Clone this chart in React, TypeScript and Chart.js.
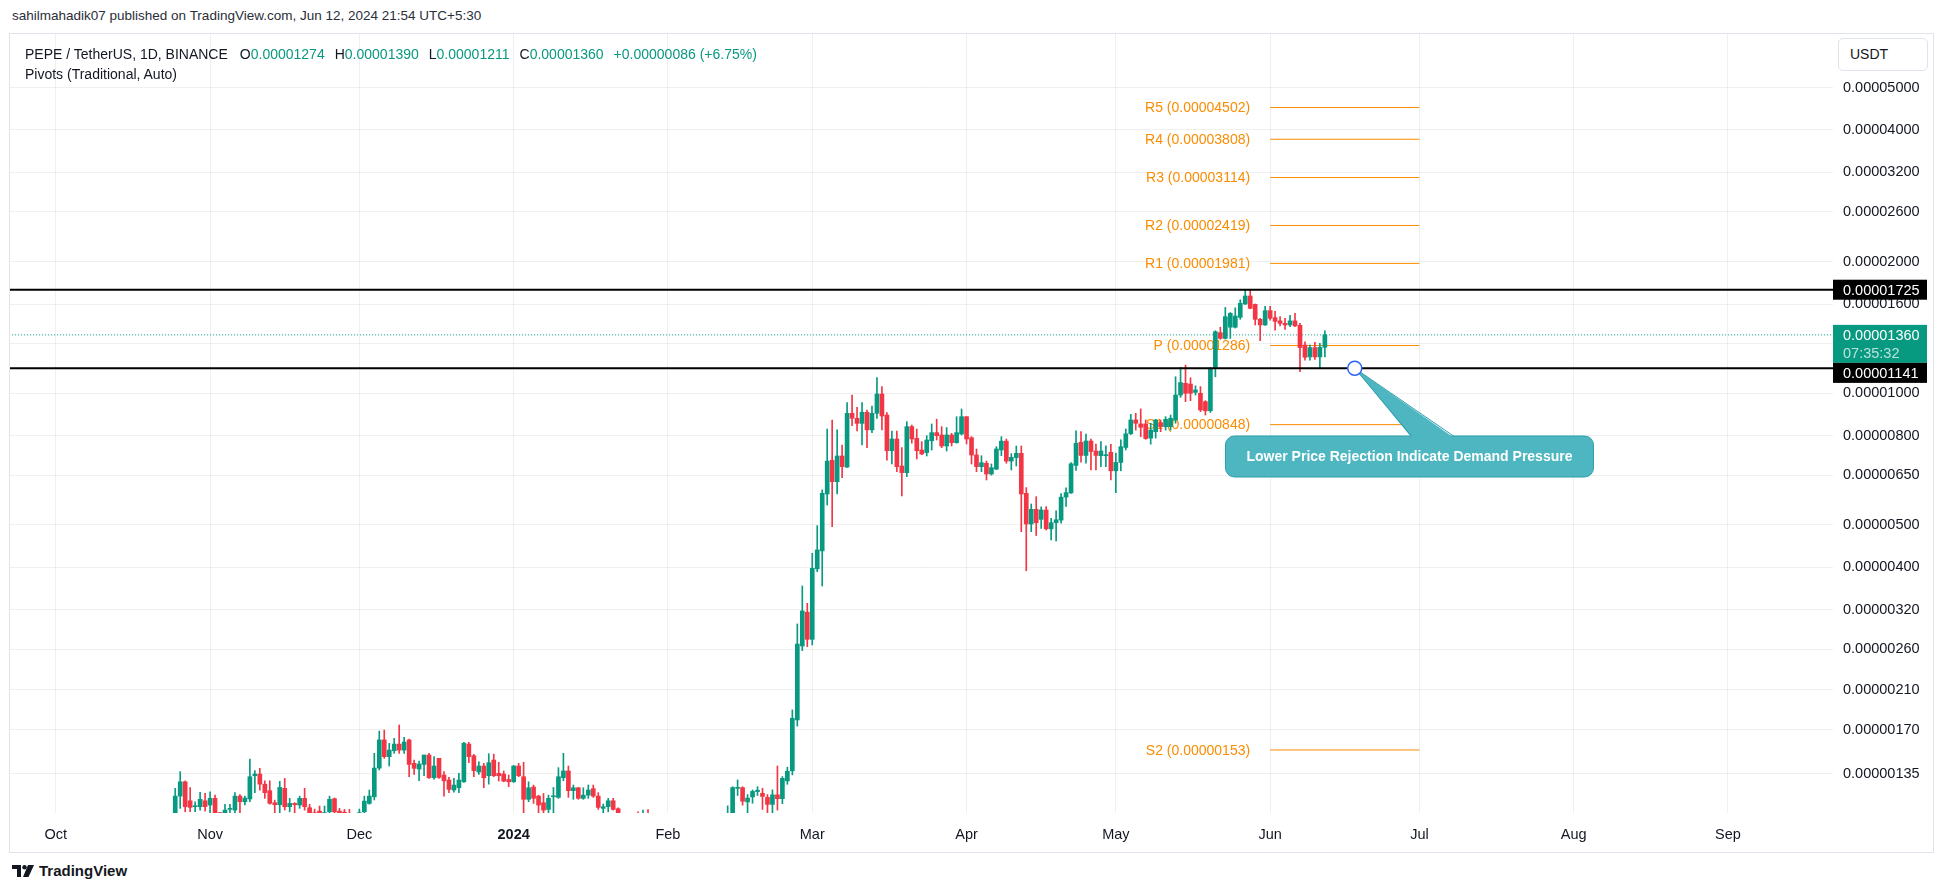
import React, { useEffect, useRef } from 'react';
import { Chart, registerables } from 'chart.js';

Chart.register(...registerables);

// ---------------- data (daily candles, PEPE / USDT) ----------------
const FIRST_CANDLE_DATE = '2023-10-25';

const OPEN = [
  1.04e-6, 1.20e-6, 1.294e-6, 1.171e-6, 1.135e-6, 1.135e-6, 1.171e-6, 1.145e-6, 1.186e-6, 1.10e-6,
  1.08e-6, 1.119e-6, 1.115e-6, 1.20e-6, 1.165e-6, 1.182e-6, 1.336e-6, 1.348e-6, 1.278e-6, 1.235e-6,
  1.159e-6, 1.147e-6, 1.25e-6, 1.135e-6, 1.155e-6, 1.145e-6, 1.186e-6, 1.129e-6, 1.10e-6, 1.109e-6,
  1.08e-6, 1.105e-6, 1.184e-6, 1.109e-6, 1.103e-6, 1.09e-6, 1.08e-6, 1.09e-6, 1.105e-6, 1.155e-6,
  1.196e-6, 1.391e-6, 1.613e-6, 1.477e-6, 1.524e-6, 1.578e-6, 1.529e-6, 1.613e-6, 1.426e-6, 1.384e-6,
  1.418e-6, 1.49e-6, 1.322e-6, 1.464e-6, 1.341e-6, 1.306e-6, 1.239e-6, 1.254e-6, 1.294e-6, 1.578e-6,
  1.484e-6, 1.362e-6, 1.406e-6, 1.336e-6, 1.451e-6, 1.353e-6, 1.348e-6, 1.31e-6, 1.294e-6, 1.406e-6,
  1.329e-6, 1.18e-6, 1.259e-6, 1.20e-6, 1.159e-6, 1.119e-6, 1.196e-6, 1.192e-6, 1.322e-6, 1.37e-6,
  1.235e-6, 1.254e-6, 1.186e-6, 1.206e-6, 1.248e-6, 1.20e-6, 1.125e-6, 1.135e-6, 1.171e-6, 1.123e-6,
  1.09e-6, 1.05e-6, 1.04e-6, 1.06e-6, 1.04e-6, 1.07e-6, 1.05e-6, 1.02e-6, 1.00e-6, 0.98e-6,
  0.99e-6, 0.97e-6, 0.96e-6, 0.98e-6, 0.96e-6, 0.97e-6, 0.99e-6, 0.98e-6, 1.00e-6, 1.02e-6,
  1.03e-6,
  1.04e-6, 1.07e-6, 1.25e-6, 1.255e-6, 1.164e-6, 1.195e-6, 1.229e-6, 1.218e-6, 1.192e-6, 1.149e-6,
  1.208e-6, 1.184e-6, 1.30e-6, 1.371e-6, 1.792e-6, 2.645e-6, 3.16e-6, 2.739e-6, 3.97e-6, 4.362e-6,
  5.886e-6, 7.03e-6, 6.28e-6, 7.19e-6, 6.78e-6, 9.0e-6, 8.767e-6, 8.537e-6, 9.05e-6, 8.25e-6,
  9.0e-6, 9.963e-6, 8.915e-6, 7.393e-6, 7.862e-6, 6.82e-6, 6.585e-6, 8.39e-6, 7.889e-6, 7.419e-6,
  7.32e-6, 7.79e-6, 8.13e-6, 8.03e-6, 7.578e-6, 8.03e-6, 7.711e-6, 8.07e-6, 8.842e-6, 7.915e-6,
  7.227e-6, 6.797e-6, 6.92e-6, 6.539e-6, 6.71e-6, 7.419e-6, 7.775e-6, 7.0e-6, 7.13e-6, 7.292e-6,
  5.907e-6, 5.026e-6, 5.43e-6,
  5.15e-6, 5.41e-6, 4.90e-6, 5.06e-6, 5.13e-6, 5.79e-6, 5.92e-6, 6.84e-6, 7.73e-6, 7.21e-6,
  7.78e-6, 7.38e-6, 7.20e-6, 7.20e-6, 7.33e-6, 6.65e-6, 6.95e-6, 7.52e-6, 8.08e-6, 8.69e-6,
  8.51e-6, 8.51e-6, 7.90e-6, 8.17e-6, 8.57e-6, 8.39e-6, 8.39e-6, 8.69e-6, 9.91e-6, 10.54e-6,
  10.50e-6, 10.05e-6, 10.00e-6, 9.57e-6, 9.12e-6,
  11.40e-6, 13.76e-6, 13.35e-6, 14.16e-6, 14.16e-6, 14.92e-6, 16.00e-6, 16.69e-6, 15.97e-6, 14.76e-6,
  14.33e-6, 15.45e-6, 14.89e-6, 14.64e-6, 14.45e-6, 14.33e-6, 14.64e-6, 14.30e-6, 12.89e-6, 12.11e-6,
  12.72e-6, 12.11e-6, 12.74e-6,
];

const HIGH = [
  1.25e-6, 1.365e-6, 1.30e-6, 1.256e-6, 1.165e-6, 1.224e-6, 1.217e-6, 1.228e-6, 1.206e-6, 1.10e-6,
  1.149e-6, 1.149e-6, 1.222e-6, 1.21e-6, 1.20e-6, 1.459e-6, 1.372e-6, 1.389e-6, 1.301e-6, 1.301e-6,
  1.175e-6, 1.297e-6, 1.317e-6, 1.186e-6, 1.159e-6, 1.20e-6, 1.25e-6, 1.149e-6, 1.121e-6, 1.139e-6,
  1.139e-6, 1.20e-6, 1.188e-6, 1.125e-6, 1.119e-6, 1.119e-6, 1.095e-6, 1.121e-6, 1.20e-6, 1.239e-6,
  1.503e-6, 1.69e-6, 1.699e-6, 1.584e-6, 1.627e-6, 1.745e-6, 1.635e-6, 1.621e-6, 1.451e-6, 1.444e-6,
  1.49e-6, 1.503e-6, 1.477e-6, 1.464e-6, 1.365e-6, 1.324e-6, 1.317e-6, 1.353e-6, 1.592e-6, 1.592e-6,
  1.495e-6, 1.438e-6, 1.426e-6, 1.50e-6, 1.497e-6, 1.434e-6, 1.37e-6, 1.341e-6, 1.41e-6, 1.426e-6,
  1.434e-6, 1.294e-6, 1.272e-6, 1.206e-6, 1.217e-6, 1.206e-6, 1.256e-6, 1.394e-6, 1.503e-6, 1.406e-6,
  1.272e-6, 1.256e-6, 1.254e-6, 1.272e-6, 1.272e-6, 1.222e-6, 1.151e-6, 1.186e-6, 1.186e-6, 1.129e-6,
  1.095e-6, 1.07e-6, 1.08e-6, 1.105e-6, 1.115e-6, 1.118e-6, 1.07e-6, 1.05e-6, 1.03e-6, 1.01e-6,
  1.02e-6, 1.00e-6, 0.99e-6, 1.00e-6, 0.99e-6, 1.01e-6, 1.02e-6, 1.01e-6, 1.04e-6, 1.06e-6,
  1.07e-6,
  1.14e-6, 1.261e-6, 1.307e-6, 1.261e-6, 1.21e-6, 1.24e-6, 1.261e-6, 1.251e-6, 1.21e-6, 1.24e-6,
  1.406e-6, 1.33e-6, 1.397e-6, 1.889e-6, 2.97e-6, 3.627e-6, 3.311e-6, 4.308e-6, 4.983e-6, 6.016e-6,
  8.286e-6, 8.689e-6, 8.25e-6, 7.618e-6, 9.52e-6, 9.911e-6, 9.288e-6, 9.52e-6, 9.16e-6, 9.354e-6,
  10.857e-6, 10.356e-6, 9.03e-6, 8.2e-6, 8.2e-6, 7.51e-6, 8.614e-6, 8.46e-6, 8.286e-6, 7.753e-6,
  8.0e-6, 8.508e-6, 8.726e-6, 8.39e-6, 8.35e-6, 8.1e-6, 8.842e-6, 9.207e-6, 8.842e-6, 7.96e-6,
  7.459e-6, 7.2e-6, 7.0e-6, 6.893e-6, 7.55e-6, 7.959e-6, 7.86e-6, 7.28e-6, 7.578e-6, 7.578e-6,
  6.087e-6, 5.585e-6, 5.804e-6,
  5.50e-6, 5.51e-6, 5.18e-6, 5.39e-6, 5.90e-6, 6.08e-6, 6.94e-6, 8.21e-6, 8.17e-6, 8.07e-6,
  7.86e-6, 7.65e-6, 7.76e-6, 7.58e-6, 7.64e-6, 7.30e-6, 7.83e-6, 8.29e-6, 8.95e-6, 9.00e-6,
  9.21e-6, 8.69e-6, 8.54e-6, 8.72e-6, 8.69e-6, 8.84e-6, 8.92e-6, 10.91e-6, 11.46e-6, 11.60e-6,
  10.85e-6, 10.40e-6, 10.36e-6, 9.62e-6, 11.46e-6,
  13.90e-6, 14.16e-6, 15.71e-6, 15.30e-6, 15.68e-6, 16.36e-6, 17.25e-6, 17.22e-6, 16.00e-6, 14.84e-6,
  15.80e-6, 15.80e-6, 15.40e-6, 14.97e-6, 14.84e-6, 15.07e-6, 15.23e-6, 14.45e-6, 13.12e-6, 12.89e-6,
  13.08e-6, 13.01e-6, 13.90e-6,
];

const LOW = [
  1.02e-6, 1.125e-6, 1.105e-6, 1.105e-6, 1.105e-6, 1.115e-6, 1.109e-6, 1.08e-6, 1.08e-6, 1.07e-6,
  1.07e-6, 1.09e-6, 1.08e-6, 1.08e-6, 1.145e-6, 1.165e-6, 1.222e-6, 1.239e-6, 1.186e-6, 1.15e-6,
  1.08e-6, 1.08e-6, 1.115e-6, 1.105e-6, 1.08e-6, 1.125e-6, 1.115e-6, 1.08e-6, 1.08e-6, 1.08e-6,
  1.07e-6, 1.08e-6, 1.08e-6, 1.08e-6, 1.08e-6, 1.07e-6, 1.07e-6, 1.08e-6, 1.08e-6, 1.15e-6,
  1.176e-6, 1.377e-6, 1.464e-6, 1.406e-6, 1.503e-6, 1.503e-6, 1.503e-6, 1.329e-6, 1.345e-6, 1.301e-6,
  1.336e-6, 1.317e-6, 1.312e-6, 1.317e-6, 1.20e-6, 1.222e-6, 1.226e-6, 1.222e-6, 1.29e-6, 1.431e-6,
  1.329e-6, 1.345e-6, 1.254e-6, 1.278e-6, 1.329e-6, 1.299e-6, 1.294e-6, 1.261e-6, 1.29e-6, 1.329e-6,
  1.08e-6, 1.165e-6, 1.155e-6, 1.08e-6, 1.08e-6, 1.08e-6, 1.08e-6, 1.186e-6, 1.301e-6, 1.192e-6,
  1.18e-6, 1.18e-6, 1.18e-6, 1.186e-6, 1.192e-6, 1.119e-6, 1.08e-6, 1.105e-6, 1.115e-6, 1.08e-6,
  1.04e-6, 1.02e-6, 1.01e-6, 1.03e-6, 1.02e-6, 1.03e-6, 1.00e-6, 0.98e-6, 0.96e-6, 0.95e-6,
  0.96e-6, 0.94e-6, 0.93e-6, 0.95e-6, 0.94e-6, 0.95e-6, 0.96e-6, 0.96e-6, 0.98e-6, 1.00e-6,
  1.01e-6,
  1.02e-6, 1.06e-6, 1.204e-6, 1.144e-6, 1.10e-6, 1.156e-6, 1.204e-6, 1.119e-6, 1.097e-6, 1.097e-6,
  1.115e-6, 1.153e-6, 1.277e-6, 1.342e-6, 1.735e-6, 2.581e-6, 2.636e-6, 2.659e-6, 3.91e-6, 3.627e-6,
  5.556e-6, 4.958e-6, 5.886e-6, 6.415e-6, 6.77e-6, 8.434e-6, 8.2e-6, 7.618e-6, 7.51e-6, 8.13e-6,
  8.767e-6, 8.25e-6, 7.03e-6, 6.893e-6, 6.62e-6, 5.824e-6, 6.449e-6, 7.69e-6, 7.077e-6, 7.24e-6,
  7.19e-6, 7.419e-6, 7.82e-6, 7.51e-6, 7.38e-6, 7.578e-6, 7.69e-6, 8.03e-6, 7.66e-6, 6.893e-6,
  6.62e-6, 6.62e-6, 6.337e-6, 6.50e-6, 6.69e-6, 7.2e-6, 6.92e-6, 6.678e-6, 6.82e-6, 4.827e-6,
  3.93e-6, 4.827e-6, 4.73e-6,
  4.91e-6, 4.87e-6, 4.62e-6, 4.60e-6, 5.05e-6, 5.51e-6, 5.90e-6, 6.66e-6, 6.96e-6, 6.92e-6,
  6.68e-6, 6.68e-6, 6.80e-6, 6.80e-6, 6.34e-6, 5.93e-6, 6.65e-6, 7.42e-6, 8.05e-6, 8.24e-6,
  7.96e-6, 7.85e-6, 7.65e-6, 7.90e-6, 8.17e-6, 8.24e-6, 8.24e-6, 8.54e-6, 9.79e-6, 9.57e-6,
  9.62e-6, 9.91e-6, 9.08e-6, 8.92e-6, 9.04e-6,
  10.91e-6, 13.29e-6, 13.30e-6, 13.35e-6, 14.10e-6, 14.76e-6, 15.95e-6, 15.60e-6, 14.33e-6, 13.19e-6,
  14.30e-6, 14.70e-6, 13.95e-6, 14.26e-6, 14.00e-6, 14.20e-6, 14.20e-6, 11.21e-6, 11.91e-6, 11.91e-6,
  11.95e-6, 11.40e-6, 12.11e-6,
];

const CLOSE = [
  1.20e-6, 1.294e-6, 1.135e-6, 1.131e-6, 1.139e-6, 1.18e-6, 1.135e-6, 1.186e-6, 1.09e-6, 1.08e-6,
  1.115e-6, 1.123e-6, 1.20e-6, 1.165e-6, 1.188e-6, 1.329e-6, 1.348e-6, 1.278e-6, 1.222e-6, 1.155e-6,
  1.147e-6, 1.256e-6, 1.135e-6, 1.155e-6, 1.147e-6, 1.186e-6, 1.135e-6, 1.09e-6, 1.09e-6, 1.09e-6,
  1.10e-6, 1.18e-6, 1.105e-6, 1.09e-6, 1.09e-6, 1.08e-6, 1.09e-6, 1.10e-6, 1.169e-6, 1.20e-6,
  1.391e-6, 1.613e-6, 1.477e-6, 1.529e-6, 1.578e-6, 1.529e-6, 1.595e-6, 1.418e-6, 1.389e-6, 1.421e-6,
  1.49e-6, 1.322e-6, 1.406e-6, 1.324e-6, 1.301e-6, 1.243e-6, 1.272e-6, 1.306e-6, 1.584e-6, 1.477e-6,
  1.372e-6, 1.406e-6, 1.322e-6, 1.431e-6, 1.336e-6, 1.336e-6, 1.299e-6, 1.294e-6, 1.406e-6, 1.336e-6,
  1.18e-6, 1.254e-6, 1.186e-6, 1.145e-6, 1.115e-6, 1.186e-6, 1.20e-6, 1.329e-6, 1.37e-6, 1.235e-6,
  1.254e-6, 1.186e-6, 1.206e-6, 1.239e-6, 1.20e-6, 1.131e-6, 1.135e-6, 1.171e-6, 1.119e-6, 1.09e-6,
  1.05e-6, 1.04e-6, 1.06e-6, 1.04e-6, 1.07e-6, 1.05e-6, 1.02e-6, 1.00e-6, 0.98e-6, 0.99e-6,
  0.97e-6, 0.96e-6, 0.98e-6, 0.96e-6, 0.97e-6, 0.99e-6, 0.98e-6, 1.00e-6, 1.02e-6, 1.03e-6,
  1.04e-6,
  1.08e-6, 1.255e-6, 1.255e-6, 1.168e-6, 1.188e-6, 1.23e-6, 1.238e-6, 1.198e-6, 1.149e-6, 1.208e-6,
  1.184e-6, 1.318e-6, 1.368e-6, 1.808e-6, 2.672e-6, 3.18e-6, 2.739e-6, 3.981e-6, 4.384e-6, 5.907e-6,
  7.0e-6, 6.28e-6, 7.19e-6, 6.797e-6, 9.0e-6, 8.767e-6, 8.537e-6, 9.05e-6, 8.25e-6, 9.0e-6,
  9.963e-6, 8.874e-6, 7.393e-6, 7.862e-6, 6.797e-6, 6.585e-6, 8.39e-6, 7.862e-6, 7.393e-6, 7.266e-6,
  7.82e-6, 8.13e-6, 8.0e-6, 7.578e-6, 8.03e-6, 7.711e-6, 8.13e-6, 8.842e-6, 7.862e-6, 7.227e-6,
  6.797e-6, 6.94e-6, 6.539e-6, 6.76e-6, 7.459e-6, 7.775e-6, 7.0e-6, 7.14e-6, 7.292e-6, 5.886e-6,
  5.026e-6, 5.43e-6, 5.06e-6,
  5.41e-6, 4.90e-6, 5.06e-6, 5.14e-6, 5.79e-6, 5.93e-6, 6.90e-6, 7.69e-6, 7.21e-6, 7.78e-6,
  7.36e-6, 7.21e-6, 7.38e-6, 7.24e-6, 6.65e-6, 6.95e-6, 7.55e-6, 8.08e-6, 8.69e-6, 8.54e-6,
  8.36e-6, 7.88e-6, 8.24e-6, 8.69e-6, 8.39e-6, 8.72e-6, 8.77e-6, 9.91e-6, 10.58e-6, 10.00e-6,
  10.00e-6, 10.18e-6, 9.16e-6, 9.12e-6, 11.40e-6,
  13.83e-6, 13.35e-6, 14.97e-6, 15.23e-6, 15.02e-6, 16.06e-6, 16.69e-6, 15.64e-6, 14.76e-6, 14.33e-6,
  15.45e-6, 14.84e-6, 14.60e-6, 14.45e-6, 14.33e-6, 14.64e-6, 14.26e-6, 12.72e-6, 12.09e-6, 12.72e-6,
  12.11e-6, 12.74e-6, 13.60e-6,
];

// time axis
const MONTH_TICK_DATES = [
  '2023-10-01', '2023-11-01', '2023-12-01', '2024-01-01', '2024-02-01', '2024-03-01',
  '2024-04-01', '2024-05-01', '2024-06-01', '2024-07-01', '2024-08-01', '2024-09-01',
];
const MONTH_TICK_LABELS = ['Oct', 'Nov', 'Dec', '2024', 'Feb', 'Mar', 'Apr', 'May', 'Jun', 'Jul', 'Aug', 'Sep'];
const YEAR_LABEL = '2024';
const VIEW_FROM_DAY = -9.2; // days relative to 2023-10-01
const VIEW_TO_DAY = 357.1;

// price axis
const PRICE_TICKS = [
  0.00005, 0.00004, 0.000032, 0.000026, 0.00002, 0.000016, 0.000013, 0.00001,
  0.000008, 0.0000065, 0.000005, 0.000004, 0.0000032, 0.0000026, 0.0000021, 0.0000017, 0.00000135,
];
const PRICE_MIN = 0.000001098;
const PRICE_MAX = 0.00006627;

// pivots (Traditional, Auto)
const PIVOT_NAMES = ['R5', 'R4', 'R3', 'R2', 'R1', 'P', 'S1', 'S2'];
const PIVOT_VALUES = [0.00004502, 0.00003808, 0.00003114, 0.00002419, 0.00001981, 0.00001286, 0.00000848, 0.00000153];
const PIVOT_FROM = '2024-06-01';
const PIVOT_TO = '2024-07-01';

// drawings
const LEVELS = [0.00001725, 0.00001141];
const COUNTDOWN = '07:35:32';
const CALLOUT_TEXT = 'Lower Price Rejection Indicate Demand Pressure';
const CALLOUT_POINT = { date: '2024-06-18', price: 0.00001141 };
const CALLOUT_BOX = { date: '2024-06-29', price: 0.00000717 };

// ---------------- style ----------------
const GREEN = '#089981';
const RED = '#F23645';
const ORANGE = '#FB8C00';
const TEXT = '#131722';
const GRID = 'rgba(42,46,57,0.07)';
const FONT = "'Liberation Sans', Arial, sans-serif";
const AXIS_FONT_SIZE = 14.5;

function dayOf(iso: string): number {
  const [y, m, d] = iso.split('-').map(Number);
  return (Date.UTC(y, m - 1, d) - Date.UTC(2023, 9, 1)) / 86400000;
}

const fmt = (v: number) => v.toFixed(8);

function roundRect(ctx: any, x: number, y: number, w: number, h: number, r: number) {
  ctx.beginPath();
  ctx.moveTo(x + r, y);
  ctx.lineTo(x + w - r, y);
  ctx.arcTo(x + w, y, x + w, y + r, r);
  ctx.lineTo(x + w, y + h - r);
  ctx.arcTo(x + w, y + h, x + w - r, y + h, r);
  ctx.lineTo(x + r, y + h);
  ctx.arcTo(x, y + h, x, y + h - r, r);
  ctx.lineTo(x, y + r);
  ctx.arcTo(x, y, x + r, y, r);
  ctx.closePath();
}

export default function App() {
  const canvasRef = useRef<HTMLCanvasElement>(null);

  const last = OPEN.length - 1;
  const lastClose = CLOSE[last];
  const change = lastClose - CLOSE[last - 1];
  const changePct = (change / CLOSE[last - 1]) * 100;

  useEffect(() => {
    const canvas = canvasRef.current;
    if (!canvas) return;
    const first = dayOf(FIRST_CANDLE_DATE);
    const xs = OPEN.map((_, i) => first + i);
    const monthDays = MONTH_TICK_DATES.map(dayOf);
    const yearDay = monthDays[MONTH_TICK_LABELS.indexOf(YEAR_LABEL)];
    const pivotFrom = dayOf(PIVOT_FROM);
    const pivotTo = dayOf(PIVOT_TO);
    const colors = OPEN.map((o, i) => (CLOSE[i] >= o ? GREEN : RED));

    const bodies = OPEN.map((o, i) => ({ x: xs[i], y: [Math.min(o, CLOSE[i]), Math.max(o, CLOSE[i])] }));
    const wicks = OPEN.map((_, i) => ({ x: xs[i], y: [LOW[i], HIGH[i]] }));

    const hLine = (v: number, from: number, to: number) => [{ x: from, y: v }, { x: to, y: v }];

    const datasets: any[] = [
      ...LEVELS.map((v) => ({
        type: 'line', data: hLine(v, VIEW_FROM_DAY - 5, VIEW_TO_DAY + 5),
        borderColor: '#000000', borderWidth: 2, pointRadius: 0, order: 0,
      })),
      {
        type: 'bar', data: bodies, backgroundColor: colors, borderWidth: 0,
        barThickness: 4, grouped: false, minBarLength: 1, order: 1,
      },
      {
        type: 'bar', data: wicks, backgroundColor: colors, borderWidth: 0,
        barThickness: 1, grouped: false, order: 2,
      },
      {
        type: 'line', data: hLine(lastClose, VIEW_FROM_DAY - 5, VIEW_TO_DAY + 5),
        borderColor: GREEN, borderWidth: 1, borderDash: [1, 2], pointRadius: 0, order: 3,
      },
      ...PIVOT_VALUES.map((v) => ({
        type: 'line', data: hLine(v, pivotFrom, pivotTo),
        borderColor: ORANGE, borderWidth: 1, pointRadius: 0, order: 4,
      })),
    ];

    const pivotLabels = {
      id: 'pivotLabels',
      beforeDatasetsDraw(chart: any) {
        const { ctx, chartArea, scales } = chart;
        ctx.save();
        ctx.beginPath();
        ctx.rect(chartArea.left, chartArea.top, chartArea.right - chartArea.left, chartArea.bottom - chartArea.top);
        ctx.clip();
        ctx.font = `14px ${FONT}`;
        ctx.fillStyle = ORANGE;
        ctx.textAlign = 'right';
        ctx.textBaseline = 'middle';
        const px = scales.x.getPixelForValue(pivotFrom) - 20;
        PIVOT_NAMES.forEach((n, i) => {
          const py = scales.y.getPixelForValue(PIVOT_VALUES[i]);
          ctx.fillText(`${n} (${fmt(PIVOT_VALUES[i])})`, px, py + 1);
        });
        ctx.restore();
      },
    };

    const callout = {
      id: 'callout',
      afterDatasetsDraw(chart: any) {
        const { ctx, scales } = chart;
        const ax = scales.x.getPixelForValue(dayOf(CALLOUT_POINT.date));
        const ay = scales.y.getPixelForValue(CALLOUT_POINT.price);
        const bx = scales.x.getPixelForValue(dayOf(CALLOUT_BOX.date));
        const by = scales.y.getPixelForValue(CALLOUT_BOX.price);
        const bw = 368;
        const bh = 41;
        const left = bx - bw / 2;
        const top = by - bh / 2;
        ctx.save();
        ctx.fillStyle = '#4db6c0';
        ctx.strokeStyle = '#2a9fab';
        ctx.lineWidth = 1;
        roundRect(ctx, left, top, bw, bh, 9);
        ctx.fill();
        ctx.stroke();
        const b1 = bx + 2;
        const b2 = bx + 44;
        ctx.beginPath();
        ctx.moveTo(b1, top + 1.5);
        ctx.lineTo(ax, ay);
        ctx.lineTo(b2, top + 1.5);
        ctx.closePath();
        ctx.fill();
        ctx.beginPath();
        ctx.moveTo(b1, top);
        ctx.lineTo(ax, ay);
        ctx.lineTo(b2, top);
        ctx.stroke();
        ctx.fillStyle = '#ffffff';
        ctx.font = `bold 14px ${FONT}`;
        ctx.textAlign = 'center';
        ctx.textBaseline = 'middle';
        ctx.fillText(CALLOUT_TEXT, bx, by + 1);
        ctx.beginPath();
        ctx.arc(ax, ay, 7, 0, Math.PI * 2);
        ctx.fillStyle = '#ffffff';
        ctx.fill();
        ctx.strokeStyle = '#2962FF';
        ctx.lineWidth = 1.5;
        ctx.stroke();
        ctx.restore();
      },
    };

    const priceTags = {
      id: 'priceTags',
      afterDraw(chart: any) {
        const { ctx, scales } = chart;
        const ys = scales.y;
        const x0 = ys.left;
        const w = 94;
        ctx.save();
        ctx.font = `${AXIS_FONT_SIZE}px ${FONT}`;
        ctx.textAlign = 'left';
        ctx.textBaseline = 'middle';
        // upper level
        const c1 = ys.getPixelForValue(LEVELS[0]);
        ctx.fillStyle = '#000000';
        ctx.fillRect(x0, c1 - 10, w, 20);
        ctx.fillStyle = '#ffffff';
        ctx.fillText(fmt(LEVELS[0]), x0 + 10, c1 + 1);
        // current price + countdown
        const cp = ys.getPixelForValue(lastClose);
        const cpTop = cp - 10;
        const cpH = 38;
        ctx.fillStyle = GREEN;
        ctx.fillRect(x0, cpTop, w, cpH);
        ctx.fillStyle = '#ffffff';
        ctx.fillText(fmt(lastClose), x0 + 10, cp + 1);
        ctx.fillStyle = 'rgba(255,255,255,0.72)';
        ctx.fillText(COUNTDOWN, x0 + 10, cp + 19);
        // lower level (pushed below the current price tag if they collide)
        const c2 = ys.getPixelForValue(LEVELS[1]);
        const t2 = Math.max(c2 - 10, cpTop + cpH);
        ctx.fillStyle = '#000000';
        ctx.fillRect(x0, t2, w, 20);
        ctx.fillStyle = '#ffffff';
        ctx.fillText(fmt(LEVELS[1]), x0 + 10, t2 + 11);
        ctx.restore();
      },
    };

    const chart = new Chart(canvas, {
      type: 'bar',
      data: { datasets },
      options: {
        animation: false,
        responsive: false,
        maintainAspectRatio: false,
        events: [],
        layout: { padding: 0 },
        plugins: { legend: { display: false }, tooltip: { enabled: false } },
        scales: {
          x: {
            type: 'linear',
            min: VIEW_FROM_DAY,
            max: VIEW_TO_DAY,
            offset: false,
            grid: { offset: false, color: GRID, drawTicks: false, lineWidth: 1 },
            border: { display: false },
            afterBuildTicks: (s: any) => {
              s.ticks = monthDays.map((v) => ({ value: v }));
            },
            afterFit: (s: any) => {
              s.height = 39;
              s.paddingLeft = 0;
              s.paddingRight = 0;
            },
            ticks: {
              autoSkip: false,
              maxRotation: 0,
              padding: 13,
              color: TEXT,
              font: (c: any) => ({
                family: FONT,
                size: AXIS_FONT_SIZE,
                weight: c.tick && c.tick.value === yearDay ? 'bold' : 'normal',
              }),
              callback: (v: any) => {
                const i = monthDays.indexOf(Number(v));
                return i >= 0 ? MONTH_TICK_LABELS[i] : '';
              },
            },
          },
          y: {
            type: 'logarithmic',
            position: 'right',
            min: PRICE_MIN,
            max: PRICE_MAX,
            grid: { color: GRID, drawTicks: false, lineWidth: 1 },
            border: { display: false },
            afterBuildTicks: (s: any) => {
              s.ticks = PRICE_TICKS.map((v) => ({ value: v }));
            },
            afterFit: (s: any) => {
              s.width = 100;
              s.paddingTop = 0;
              s.paddingBottom = 0;
            },
            ticks: {
              padding: 10,
              color: TEXT,
              font: { family: FONT, size: AXIS_FONT_SIZE },
              callback: (v: any) => fmt(Number(v)),
            },
          },
        },
      } as any,
      plugins: [pivotLabels, callout, priceTags],
    } as any);

    return () => chart.destroy();
  }, []);

  const green = { color: GREEN };
  const item = { marginLeft: 10 };

  return (
    <div
      style={{
        position: 'fixed', left: 0, top: 0, width: 1946, height: 893, background: '#ffffff',
        overflow: 'hidden', fontFamily: FONT, color: TEXT,
      }}
    >
      <div style={{ position: 'absolute', left: 12, top: 7, fontSize: 13.5, lineHeight: '17px', color: '#2a2e39' }}>
        sahilmahadik07 published on TradingView.com, Jun 12, 2024 21:54 UTC+5:30
      </div>
      <div
        style={{
          position: 'absolute', left: 9, top: 33, width: 1925, height: 820,
          border: '1px solid #e0e3eb', boxSizing: 'border-box',
        }}
      />
      <canvas
        ref={canvasRef}
        width={1923}
        height={818}
        style={{ position: 'absolute', left: 10, top: 34, width: 1923, height: 818 }}
      />
      <div style={{ position: 'absolute', left: 25, top: 45, fontSize: 14, lineHeight: '18px', whiteSpace: 'nowrap' }}>
        <span>PEPE / TetherUS, 1D, BINANCE</span>
        <span style={{ marginLeft: 12 }}>O<span style={green}>{fmt(OPEN[last])}</span></span>
        <span style={item}>H<span style={green}>{fmt(HIGH[last])}</span></span>
        <span style={item}>L<span style={green}>{fmt(LOW[last])}</span></span>
        <span style={item}>C<span style={green}>{fmt(lastClose)}</span></span>
        <span style={{ ...item, ...green }}>
          {(change >= 0 ? '+' : '') + fmt(change)} ({(changePct >= 0 ? '+' : '') + changePct.toFixed(2)}%)
        </span>
      </div>
      <div style={{ position: 'absolute', left: 25, top: 65, fontSize: 14, lineHeight: '18px' }}>
        Pivots (Traditional, Auto)
      </div>
      <div
        style={{
          position: 'absolute', left: 1838, top: 38, width: 90, height: 33, boxSizing: 'border-box',
          border: '1px solid #e0e3eb', borderRadius: 5, background: '#fff', fontSize: 14,
          lineHeight: '31px', paddingLeft: 11,
        }}
      >
        USDT
      </div>
      <div style={{ position: 'absolute', left: 12, top: 862, display: 'flex', alignItems: 'center' }}>
        <svg width="22" height="14" viewBox="0 0 22 14">
          <path d="M0 1h9v12H5V5H0z" fill="#131722" />
          <circle cx="12.5" cy="3.2" r="2.2" fill="#131722" />
          <path d="M16 1h6l-5.5 12H11z" fill="#131722" />
        </svg>
        <span style={{ marginLeft: 5, fontSize: 15, fontWeight: 600, color: '#131722' }}>TradingView</span>
      </div>
    </div>
  );
}
